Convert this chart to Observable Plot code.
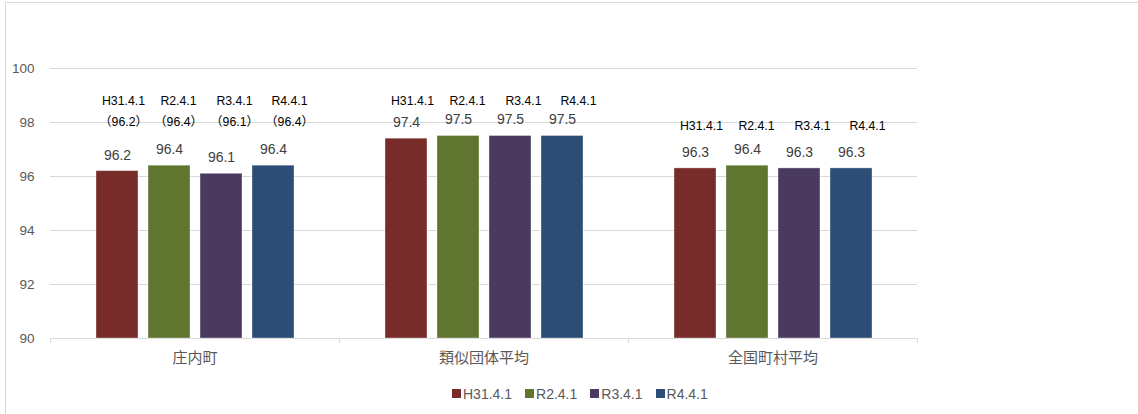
<!DOCTYPE html>
<html>
<head>
<meta charset="utf-8">
<script src="https://cdn.jsdelivr.net/npm/d3@7"></script>
<script src="https://cdn.jsdelivr.net/npm/@observablehq/plot@0.6"></script>
<style>
  html, body { margin: 0; padding: 0; background: #fff; }
  #wrap { position: relative; width: 1138px; height: 414px; overflow: hidden; }
  #frame { position: absolute; left: 5px; top: 2px; width: 1300px; height: 600px;
           border-left: 1px solid #d9d9d9; border-top: 1px solid #d9d9d9; }
  #chart { position: absolute; left: 0; top: 0; }
  #legend { position: absolute; left: 452px; top: 377px; }
  text { font-feature-settings: "halt"; }
  .lg-swatch > svg { margin-right: 2px !important; }
  .lg-swatch { margin-right: 13px !important; }
</style>
</head>
<body>
<div id="wrap"><div id="frame"></div><div id="chart"></div><div id="legend"></div></div>
<script>
// ---- data ----
const categories = ["庄内町", "類似団体平均", "全国町村平均"];
const seriesNames = ["H31.4.1", "R2.4.1", "R3.4.1", "R4.4.1"];
const shonaiValues = [96.2, 96.4, 96.1, 96.4];
const ruijiValues = [97.4, 97.5, 97.5, 97.5];
const zenkokuValues = [96.3, 96.4, 96.3, 96.3];
const shonaiParenLabels = ["（96.2）", "（96.4）", "（96.1）", "（96.4）"];
const yTicks = [90, 92, 94, 96, 98, 100];
const colors = ["#772c2a", "#5f7530", "#4b3a60", "#2c4d75"];

// ---- layout (annotation text-box levels in y units, per-series nudges in px) ----
const annotLevel = [98.78, 98.78, 97.86];
const parenLevel = 98.0;
const annotDx = [6, 9, 13, 16];

const W = 1138, H = 414, ML = 50, MR = 221, MT = 68, MB = 76;
const fxStep = (W - ML - MR) / categories.length;
const valuesByCat = [shonaiValues, ruijiValues, zenkokuValues];

const rows = categories.flatMap((c, i) =>
  seriesNames.map((s, j) => ({category: c, series: s, value: valuesByCat[i][j], j})));

const annots = categories.flatMap((c, i) =>
  seriesNames.map((s, j) => ({category: c, series: s, text: s, level: annotLevel[i], j})));
const parens = seriesNames.map((s, j) =>
  ({category: categories[0], series: s, text: shonaiParenLabels[j], level: parenLevel, j}));
const allAnnots = annots.concat(parens);

const font = "'Liberation Sans', Arial, 'Noto Sans CJK JP', sans-serif";
const cjkFont = "'Noto Sans CJK JP', 'Noto Sans CJK SC', sans-serif";

const chart = Plot.plot({
  width: W, height: H,
  marginLeft: ML, marginRight: MR, marginTop: MT, marginBottom: MB,
  style: {fontFamily: font, background: "transparent", overflow: "visible"},
  fx: {domain: categories, padding: 0, label: null},
  x: {domain: seriesNames, paddingInner: 0.2, paddingOuter: 0.85, axis: null},
  y: {domain: [90, 100], axis: null},
  color: {domain: seriesNames, range: colors},
  marks: [
    Plot.gridY(yTicks, {stroke: "#d9d9d9", strokeOpacity: 1}),
    Plot.axisY(yTicks, {tickSize: 0, tickPadding: 16, fontSize: 13.5, fill: "#595959", label: null}),
    Plot.axisFx({anchor: "bottom", tickSize: 5, tickFormat: () => "", dx: -fxStep / 2, stroke: "#d9d9d9", label: null}),
    Plot.axisFx([categories[categories.length - 1]], {anchor: "bottom", tickSize: 5, tickFormat: () => "", dx: fxStep / 2, stroke: "#d9d9d9", label: null}),
    Plot.axisFx({anchor: "bottom", tickSize: 0, tickPadding: 14, fontSize: 15, fill: "#595959", fontFamily: cjkFont, label: null}),
    Plot.barY(rows, {fx: "category", x: "series", y1: 90, y2: "value", fill: "series",
      stroke: "#ffffff", strokeOpacity: 0.35, strokeWidth: 1}),
    Plot.text(rows, {fx: "category", x: "series", y: "value", text: d => d.value.toFixed(1),
      dy: -16, fontSize: 14, fill: "#404040"}),
    ...seriesNames.map((s, j) =>
      Plot.text(allAnnots.filter(d => d.j === j), {fx: "category", x: "series", y: "level", text: "text",
        dx: annotDx[j], fontSize: 12.3, fill: "#000000"}))
  ]
});
document.getElementById("chart").appendChild(chart);

const legend = Plot.legend({
  color: {domain: seriesNames, range: colors},
  legend: "swatches",
  swatchSize: 9,
  className: "lg",
  style: {fontSize: "14px", fontFamily: font, color: "#595959"}
});
document.getElementById("legend").appendChild(legend);
</script>
</body>
</html>
